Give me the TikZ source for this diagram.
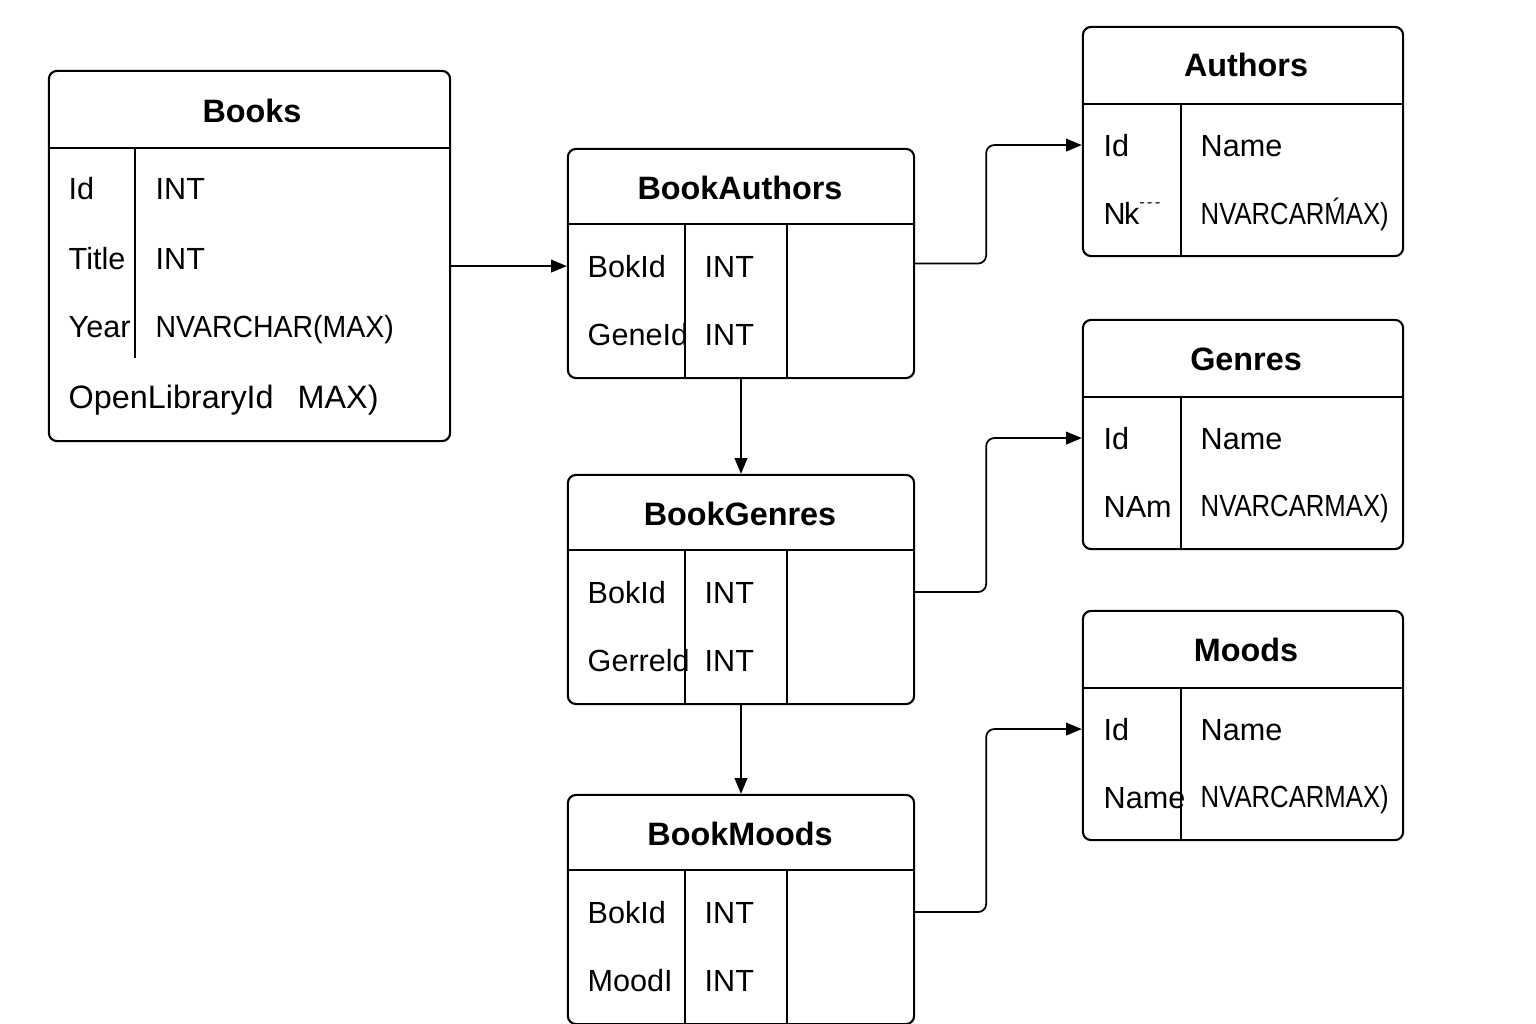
\documentclass[tikz,border=0pt]{standalone}
\usepackage{fontspec}
\setmainfont{Liberation Sans}
\usetikzlibrary{arrows.meta}

\begin{document}
\begin{tikzpicture}[x=0.01cm, y=-0.01cm,
    tbl/.style={draw, semithick, rounded corners=2.3pt, inner sep=0pt},
    hdr/.style={anchor=base, inner sep=0pt, font=\fontsize{9.2}{11}\selectfont\bfseries},
    fld/.style={anchor=base west, inner sep=0pt, font=\fontsize{8.7}{10}\selectfont},
    link/.style={line width=0.5pt, rounded corners=2.3pt, -{Triangle[length=4.5pt, width=3.6pt]}}]

        % page with the reference margins
        \useasboundingbox (0,0) rectangle (1536,1024);

        % Books
        \node[tbl, minimum width=4.01cm, minimum height=3.70cm] (bk) at (249.5,256) {};
        \node[hdr] (bk-t) at (252,122) {Books};
        \draw[semithick] (49,148) -- (450,148);
        \draw[semithick] (135,148) -- (135,358);
        \foreach \y/\n/\t [count=\i] in {188/Id/INT, 258/Title/INT, 326/Year/{\scalebox{.93}[1]{NVARCHAR(MAX)}}} {
                \node[fld] (bk-k\i) at (68,\y+11) {\n};
                \node[fld] (bk-v\i) at (155,\y+11) {\t};
        }
        \node[fld, font=\fontsize{9.2}{11}\selectfont] (bk-k4) at (68,408) {OpenLibraryId};
        \node[fld, font=\fontsize{9.2}{11}\selectfont] (bk-v4) at (297,408) {MAX)};

        % link tables
        \foreach \c/\nm/\ty/\a/\b in {ba/BookAuthors/149/BokId/GeneId, bg/BookGenres/475/BokId/Gerreld, bm/BookMoods/795/BokId/MoodI} {
                \node[tbl, minimum width=3.46cm, minimum height=2.29cm] (\c) at (741,\ty+114.5) {};
                \node[hdr] (\c-t) at (740,\ty+50) {\nm};
                \draw[semithick] (568,\ty+75) -- (914,\ty+75);
                \draw[semithick] (685,\ty+75) -- (685,\ty+229);
                \draw[semithick] (787,\ty+75) -- (787,\ty+229);
                \node[fld] (\c-k1) at (587,\ty+128) {\a};
                \node[fld] (\c-k2) at (587,\ty+196) {\b};
                \node[fld] (\c-v1) at (704,\ty+128) {INT};
                \node[fld] (\c-v2) at (704,\ty+196) {INT};
        }

        % lookup tables
        \foreach \c/\nm/\ty/\b in {au/Authors/27/{N\kern-.5pt k\raisebox{1ex}{\fontsize{4.5}{5}\selectfont-\,-\,-}}, gn/Genres/320/NAm, md/Moods/611/Name} {
                \node[tbl, minimum width=3.20cm, minimum height=2.29cm] (\c) at (1243,\ty+114.5) {};
                \node[hdr] (\c-t) at (1246,\ty+50) {\nm};
                \draw[semithick] (1083,\ty+77) -- (1403,\ty+77);
                \draw[semithick] (1181,\ty+77) -- (1181,\ty+229);
                \node[fld] (\c-k1) at (1103,\ty+129) {Id};
                \node[fld] (\c-k2) at (1103,\ty+197) {\b};
                \node[fld] (\c-v1) at (1200,\ty+129) {Name};
        }
        \node[fld] (au-v2) at (1200,224) {\scalebox{.84}[1]{NVARCAR\'{M}AX)}};
        \node[fld] (gn-v2) at (1200,516) {\scalebox{.84}[1]{NVARCARMAX)}};
        \node[fld] (md-v2) at (1200,807) {\scalebox{.84}[1]{NVARCARMAX)}};

        % connectors
        \draw[link] (bk.east |- ba-k1.west) -- (ba.west |- ba-k1.west);
        \draw[link] (ba.south) -- (bg.north);
        \draw[link] (bg.south) -- (bm.north);
        \draw[link] (ba.east) -- ++(71,0) |- (au.west |- au-k1.west);
        \draw[link] (bg.east |- bg-k1.west) -- ++(71,0) |- (gn.west |- gn-k1.west);
        \draw[link] (bm.east |- bm-k1.west) -- ++(71,0) |- (md.west |- md-k1.west);

\end{tikzpicture}
\end{document}
